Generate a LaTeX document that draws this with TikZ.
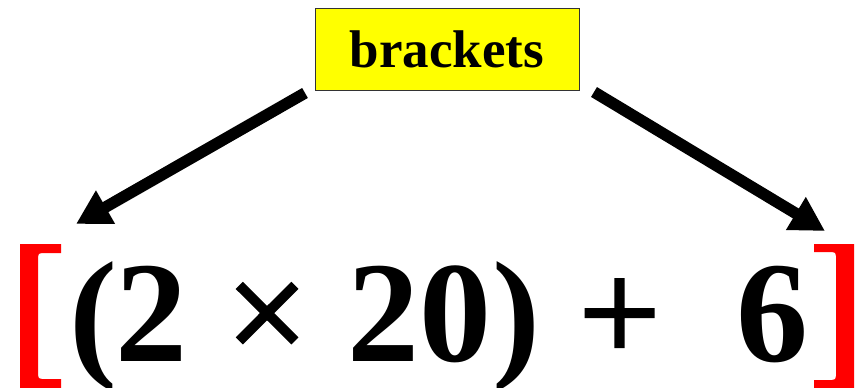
\documentclass[tikz,border=0pt]{standalone}
\usepackage{fontspec}
\setmainfont{Liberation Serif}
\newfontfamily\opfont[FakeBold=2]{Liberation Serif}
\usetikzlibrary{arrows.meta}
\definecolor{boxyellow}{RGB}{255,255,0}
\definecolor{brred}{RGB}{255,0,0}
\begin{document}
\begin{tikzpicture}[x=1pt,y=-1pt,
  labelbox/.style={draw=black!80,line width=1pt,fill=boxyellow,minimum width=264pt,minimum height=82pt,inner sep=0pt,
    font=\fontsize{53}{60}\selectfont\bfseries},
  bigbold/.style={anchor=base,inner sep=0pt,font=\fontsize{144}{160}\selectfont\bfseries},
  bigreg/.style={anchor=base,inner sep=0pt,font=\fontsize{144}{160}\selectfont\opfont},
  fatarrow/.style={line width=11.5pt,-{Triangle[length=34pt,width=36pt]}},
  bracketfill/.style={fill=brred,draw=none}]
\useasboundingbox (0,0) rectangle (867,388);
\fill[white] (0,0) rectangle (867,388);
% label box
\node[labelbox] (box) at (447,49.5) {brackets};
% expression
\node[bigbold] (lp) at (93,361) {(};
\node[bigbold] (two) at (151.5,361) {2};
\node[bigreg] (times) at (267,361) {×};
\node[bigbold] (twenty) at (419,361) {20};
\node[bigbold] (rp) at (516,361) {)};
\node[bigreg] (plus) at (619.5,361) {+};
\node[bigbold] (six) at (772.5,361) {6};
% red brackets
\fill[bracketfill] (20,244) -- (61,244) -- (61,253) -- (42,253)
  .. controls (39,253) and (38,254) .. (38,257) -- (38,375)
  .. controls (38,378) and (39,379) .. (42,379) -- (61,379) -- (61,388) -- (20,388) -- cycle;
\fill[bracketfill] (854,244) -- (814,244) -- (814,252) -- (832,252)
  .. controls (835,252) and (836,253) .. (836,256) -- (836,376)
  .. controls (836,379) and (835,380) .. (832,380) -- (814,380) -- (814,388) -- (854,388) -- cycle;
% arrows
\coordinate (ls) at (305,93);
\coordinate (lt) at (76,224);
\coordinate (rs) at (594,92);
\coordinate (rt) at (825,231);
\draw[fatarrow] (ls) -- (lt);
\draw[fatarrow] (rs) -- (rt);
\end{tikzpicture}
\end{document}
